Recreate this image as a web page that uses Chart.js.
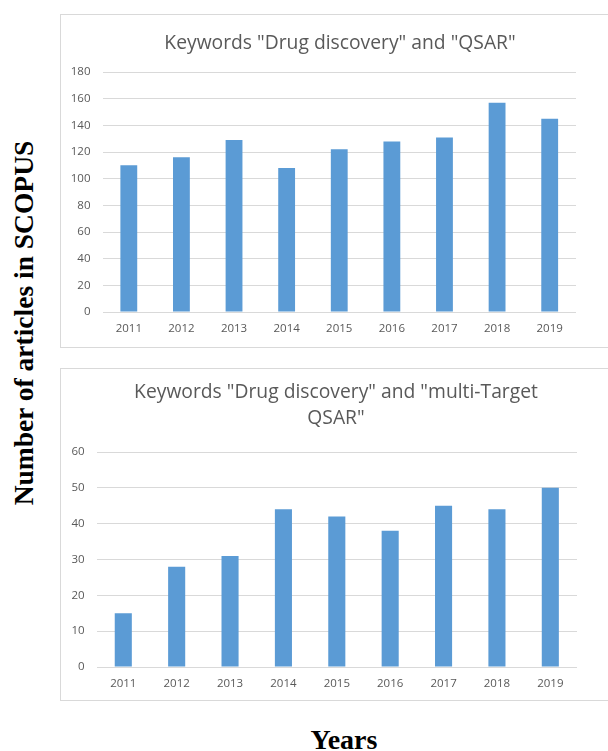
<!DOCTYPE html>
<html>
<head>
<meta charset="utf-8">
<script src="https://cdn.jsdelivr.net/npm/chart.js@4/dist/chart.umd.min.js"></script>
<style>
  html, body { margin: 0; padding: 0; background: #fff; }
  body { width: 608px; height: 751px; position: relative; overflow: hidden; }
  .box { position: absolute; left: 60px; width: 570px; border: 1px solid #d9d9d9; box-sizing: border-box; }
  .box canvas { position: absolute; left: 0; top: 0; }
  #box1 { top: 14px; height: 334px; }
  #box2 { top: 368px; height: 333px; }
  .ytitle {
    position: absolute; left: 24px; top: 323px;
    transform: translate(-50%, -50%) rotate(-90deg);
    font: bold 27.5px "Liberation Serif", "DejaVu Serif", serif; white-space: nowrap; color: #000;
  }
  .xtitle {
    position: absolute; left: 344px; top: 740px;
    transform: translate(-50%, -50%);
    font: bold 28px "Liberation Serif", "DejaVu Serif", serif; color: #000;
  }
</style>
</head>
<body>
<div class="box" id="box1"><canvas id="chart1" width="560" height="333"></canvas></div>
<div class="box" id="box2"><canvas id="chart2" width="560" height="332"></canvas></div>
<div class="ytitle">Number of articles in SCOPUS</div>
<div class="xtitle">Years</div>

<script>
const years = ['2011', '2012', '2013', '2014', '2015', '2016', '2017', '2018', '2019'];
const qsarCounts = [110, 116, 129, 108, 122, 128, 131, 157, 145];
const multiTargetCounts = [15, 28, 31, 44, 42, 38, 45, 44, 50];
const title1 = 'Keywords "Drug discovery" and "QSAR"';
const title2 = ['Keywords "Drug discovery" and "multi-Target', 'QSAR"'];

const textColor = '#595959';
const gridColor = '#d9d9d9';
const barColor = '#5b9bd5';

function makeChart(id, values, max, step, title, opts) {
  const ctx = document.getElementById(id).getContext('2d');
  return new Chart(ctx, {
    type: 'bar',
    data: {
      labels: years,
      datasets: [{
        data: values,
        backgroundColor: barColor,
        borderWidth: 0,
        barPercentage: 0.32,
        categoryPercentage: 1,
      }],
    },
    options: {
      responsive: false,
      animation: false,
      layout: { padding: { left: 0, right: opts.right, top: 0, bottom: opts.bottom } },
      plugins: {
        legend: { display: false },
        tooltip: { enabled: false },
        title: {
          display: true,
          text: title,
          color: textColor,
          font: { family: 'Open Sans', size: 19.3, weight: 'normal', lineHeight: opts.lineHeight },
          padding: { top: opts.titleTop, bottom: opts.titleBottom },
        },
      },
      scales: {
        x: {
          grid: { display: false, drawTicks: false },
          border: { display: false },
          ticks: { color: textColor, font: { family: 'Open Sans', size: 11.5 }, padding: 10 },
          afterFit: (scale) => { scale.height = 30; },
        },
        y: {
          min: 0,
          max: max,
          grid: { color: gridColor, lineWidth: 1, drawTicks: false },
          border: { display: false },
          ticks: { stepSize: step, color: textColor, font: { family: 'Open Sans', size: 11.5 }, padding: 12 },
          afterFit: (scale) => { scale.width = opts.yWidth; },
        },
        // empty right-hand axis, only there to keep the title centred like the original
        yRight: {
          position: 'right',
          min: 0,
          max: max,
          grid: { display: false, drawTicks: false },
          border: { display: false },
          ticks: { display: false },
          afterFit: (scale) => { scale.width = opts.rightSpace; },
        },
      },
    },
  });
}

makeChart('chart1', qsarCounts, 180, 20, title1,
  { right: 2, rightSpace: 43, bottom: 6, yWidth: 41.5, titleTop: 16.6, titleBottom: 17.3, lineHeight: 1.2 });
makeChart('chart2', multiTargetCounts, 60, 10, title2,
  { right: 10, rightSpace: 34, bottom: 4, yWidth: 35.6, titleTop: 11, titleBottom: 20, lineHeight: 26 / 19.3 });
</script>
</body>
</html>
